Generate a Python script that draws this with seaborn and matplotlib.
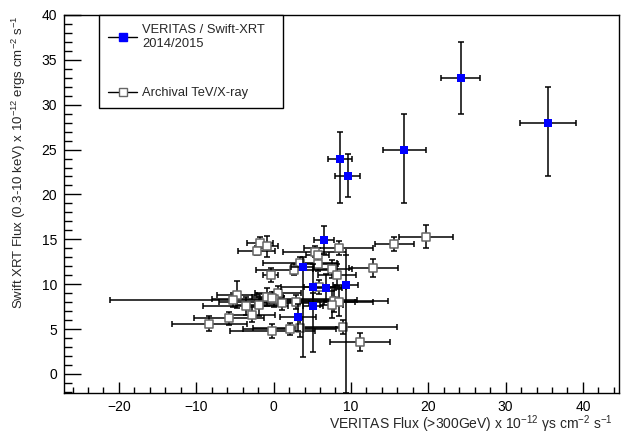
import numpy as np
import seaborn as sns
import matplotlib.pyplot as plt
from matplotlib.lines import Line2D
from matplotlib.ticker import MultipleLocator

# VERITAS / Swift-XRT 2014/2015 points
blue_x = [24.2, 35.5, 16.9, 8.6, 9.6, 6.5, 3.75, 5.1, 6.8, 9.3, 5.1, 3.15]
blue_y = [33.0, 28.0, 25.0, 24.0, 22.1, 14.9, 11.9, 9.7, 9.6, 9.9, 7.6, 6.3]
blue_xerr = [2.5, 3.6, 2.8, 1.6, 1.6, 1.3, 1.5, 4.2, 2.0, 1.6, 1.3, 2.3]
blue_yerr_lo = [4.0, 6.0, 6.0, 5.0, 2.4, 1.5, 10.0, 2.0, 1.5, 12.0, 5.2, 1.5]
blue_yerr_hi = [4.0, 4.0, 4.0, 3.0, 2.4, 1.6, 1.1, 2.5, 1.5, 3.3, 1.4, 1.5]

# Archival TeV/X-ray points
arch_x = [-1.8, -0.8, -2.2, 8.4, 5.3, 5.7, 3.4, 5.8, 2.7, 7.6, 12.9, -0.4, 8.2, 5.9,
          -4.7, -5.2, 0.6, -0.8, 0.0, -0.2, -3.6, -1.9, 1.1, 2.9, 7.8, 8.5, 7.5,
          -2.8, -5.8, -8.3, -0.2, 2.1, 3.4, 9.0, 11.2, 15.6, 19.7]
arch_y = [14.6, 14.2, 13.7, 14.0, 13.6, 13.2, 12.4, 12.2, 11.6, 11.7, 11.8, 11.0, 11.0, 9.7,
          8.8, 8.2, 9.0, 8.6, 8.3, 8.5, 7.6, 7.7, 7.9, 8.0, 8.1, 8.0, 7.7,
          6.6, 6.2, 5.6, 4.8, 5.0, 5.1, 5.2, 3.6, 14.5, 15.3]
arch_xerr = [1.7, 1.4, 2.4, 4.5, 4.1, 1.5, 4.8, 2.5, 5.0, 2.5, 3.2, 1.0, 2.5, 2.0,
             2.6, 16.0, 3.0, 2.0, 8.0, 1.5, 5.5, 3.0, 3.5, 10.0, 7.0, 2.0, 1.5,
             3.0, 4.5, 4.8, 5.5, 6.0, 6.0, 7.0, 3.9, 2.5, 3.5]
arch_yerr = [0.6, 1.2, 0.5, 0.8, 0.6, 0.8, 0.6, 0.7, 0.6, 1.0, 1.0, 0.8, 1.2, 0.8,
             1.5, 0.8, 0.8, 1.0, 0.8, 0.6, 1.0, 1.2, 0.8, 0.8, 1.2, 1.5, 1.5,
             0.8, 0.7, 0.8, 0.8, 0.7, 1.0, 0.8, 1.0, 0.8, 1.3]

sns.set_theme(style="white")
plt.rcParams['font.family'] = ['Liberation Sans', 'DejaVu Sans']
plt.rcParams['mathtext.fontset'] = 'custom'
plt.rcParams['mathtext.rm'] = 'Liberation Sans'
plt.rcParams['mathtext.it'] = 'Liberation Sans:italic'

fig = plt.figure(figsize=(6.25, 4.38), dpi=100)
ax = fig.add_axes([0.1024, 0.1034, 0.8885, 0.8624])

# archival: error bars then open squares
ax.errorbar(arch_x, arch_y, xerr=arch_xerr, yerr=arch_yerr, fmt='none',
            ecolor='black', elinewidth=1.1, capsize=2.5, capthick=1.1, zorder=2)
sns.scatterplot(x=arch_x, y=arch_y, marker='s', s=34, color='white',
                edgecolor='#666666', linewidth=1.1, ax=ax, zorder=3)

# new campaign
ax.errorbar(blue_x, blue_y, xerr=blue_xerr, yerr=[blue_yerr_lo, blue_yerr_hi], fmt='none',
            ecolor='black', elinewidth=1.1, capsize=2.5, capthick=1.1, zorder=4)
sns.scatterplot(x=blue_x, y=blue_y, marker='s', s=40, color='#0000ff',
                edgecolor='#0000ff', linewidth=0, ax=ax, zorder=5)

ax.set_xlim(-27.1, 44.7)
ax.set_ylim(-2.1, 40)
ax.xaxis.set_major_locator(MultipleLocator(10))
ax.xaxis.set_minor_locator(MultipleLocator(2))
ax.yaxis.set_major_locator(MultipleLocator(5))
ax.yaxis.set_minor_locator(MultipleLocator(1))
ax.tick_params(axis='both', which='both', direction='in', bottom=True, left=True,
               top=False, right=False, labelsize=10, colors='black', width=1)
ax.tick_params(axis='x', which='major', length=8, pad=5)
ax.tick_params(axis='x', which='minor', length=4.3)
ax.tick_params(axis='y', which='major', length=12, pad=5)
ax.tick_params(axis='y', which='minor', length=6)
for sp in ax.spines.values():
    sp.set_color('black')
    sp.set_linewidth(1)

ax.set_xlabel(r"VERITAS Flux (>300GeV) x 10$\mathregular{^{-12}}$ γs cm$\mathregular{^{-2}}$ s$\mathregular{^{-1}}$",
              fontsize=10, ha='right')
ax.xaxis.set_label_coords(0.989, -0.055, transform=ax.transAxes)
ax.xaxis.label.set_va('top')
ax.set_ylabel(r"Swift XRT Flux (0.3-10 keV) x 10$\mathregular{^{-12}}$ ergs cm$\mathregular{^{-2}}$ s$\mathregular{^{-1}}$",
              fontsize=9.5, ha='right')
ax.yaxis.set_label_coords(-0.065, 1.0, transform=ax.transAxes)

handles = [
    Line2D([], [], color='black', lw=1, marker='s', markersize=6,
           markerfacecolor='#0000ff', markeredgecolor='#0000ff'),
    Line2D([], [], color='black', lw=1, marker='s', markersize=6,
           markerfacecolor='white', markeredgecolor='#666666', markeredgewidth=1),
]
leg = ax.legend(handles, ["VERITAS / Swift-XRT\n2014/2015", "Archival TeV/X-ray"],
                loc='upper left', bbox_to_anchor=(0.0636, 1.0, 0.33, 0.0), mode='expand',
                borderaxespad=0, fancybox=False, framealpha=1, edgecolor='black',
                fontsize=9.3, handlelength=2.2, labelspacing=2.9, borderpad=0.7,
                handletextpad=0.4)
leg.get_frame().set_linewidth(1)

fig.savefig("out.png", dpi=100)
